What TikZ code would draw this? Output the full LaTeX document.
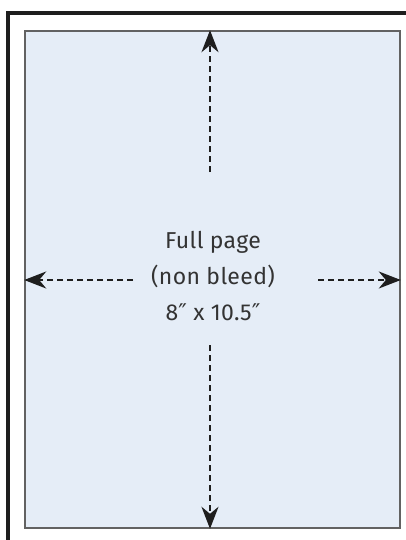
\documentclass[tikz,border=0pt]{standalone}
\usepackage{fontspec}
\setmainfont{Fira Sans}[LetterSpace=1.5]
\newfontfamily\primefont{DejaVu Sans}
\usetikzlibrary{arrows.meta}
\definecolor{pagefill}{HTML}{E5EDF7}
\definecolor{pageedge}{HTML}{626262}
\definecolor{framecol}{HTML}{1E1E1E}
\definecolor{arrowcol}{HTML}{1E1E1E}
\newcommand{\dprime}{{\primefont ″}}
\tikzset{
  dimarrow/.style={draw=arrowcol, line width=1.8pt, dash pattern=on 6pt off 4pt,
    -{Stealth[length=22pt,width=17pt,inset=7pt,sep=0pt]}},
  pagebox/.style={draw=pageedge, line width=1.6pt, fill=pagefill, inner sep=0pt},
  labeltext/.style={align=center, font=\fontsize{23}{36}\selectfont, text=black!80}
}
\begin{document}
\begin{tikzpicture}[x=1pt,y=-1pt]
\useasboundingbox (0,0) rectangle (406,540);
\fill[white] (0,0) rectangle (406,540);
\draw[framecol, line width=4pt] (8,542) -- (8,13.5) -- (408,13.5);
\node[pagebox, minimum width=375pt, minimum height=497pt] (page) at (212.5,279.5) {};
\node[labeltext] (label) at (213,276) {Full page\\(non bleed)\\8\dprime{} x 10.5\dprime};
\coordinate (tstart) at (210,172);
\coordinate (bstart) at (210,345);
\coordinate (lstart) at (133,280);
\coordinate (rstart) at (318,280);
\draw[dimarrow] (tstart) -- (tstart |- page.north);
\draw[dimarrow] (bstart) -- (bstart |- page.south);
\draw[dimarrow] (lstart) -- (lstart -| page.west);
\draw[dimarrow] (rstart) -- (rstart -| page.east);
\end{tikzpicture}
\end{document}
